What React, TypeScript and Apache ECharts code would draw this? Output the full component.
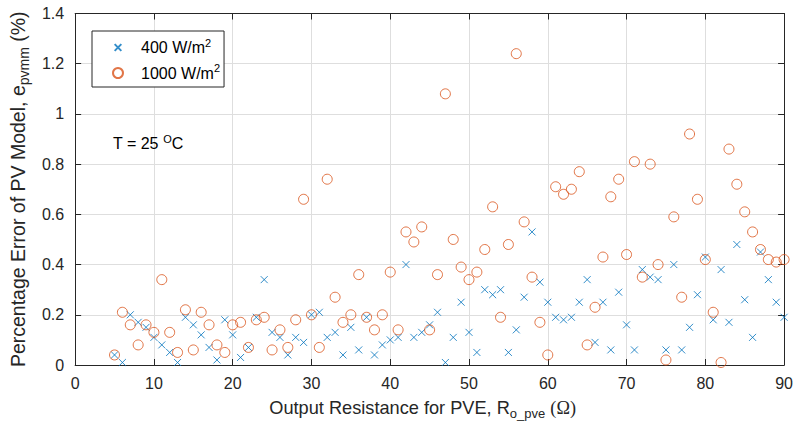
import React, { useEffect, useRef } from 'react';
import * as echarts from 'echarts';

// Output resistance for PVE (Ohm)
const resistance = [
  5, 6, 7, 8, 9, 10, 11, 12, 13, 14, 15, 16, 17, 18, 19, 20, 21, 22, 23, 24, 25, 26, 27, 28, 29,
  30, 31, 32, 33, 34, 35, 36, 37, 38, 39, 40, 41, 42, 43, 44, 45, 46, 47, 48, 49, 50, 51, 52, 53, 54,
  55, 56, 57, 58, 59, 60, 61, 62, 63, 64, 65, 66, 67, 68, 69, 70, 71, 72, 73, 74, 75, 76, 77, 78, 79,
  80, 81, 82, 83, 84, 85, 86, 87, 88, 89, 90,
];

// Percentage error at 400 W/m2
const err400 = [
  0.04, 0.01, 0.2, 0.17, 0.15, 0.11, 0.08, 0.05, 0.01, 0.19, 0.16, 0.12, 0.07, 0.02, 0.18, 0.12, 0.03, 0.07, 0.19, 0.34, 0.13, 0.11, 0.04, 0.11, 0.09,
  0.2, 0.21, 0.11, 0.13, 0.04, 0.15, 0.06, 0.19, 0.04, 0.08, 0.1, 0.11, 0.4, 0.11, 0.13, 0.16, 0.21, 0.01, 0.11, 0.25, 0.13, 0.05, 0.3, 0.28, 0.3,
  0.05, 0.14, 0.27, 0.53, 0.33, 0.25, 0.19, 0.18, 0.19, 0.25, 0.34, 0.09, 0.25, 0.06, 0.29, 0.16, 0.06, 0.38, 0.35, 0.34, 0.06, 0.4, 0.06, 0.15, 0.28,
  0.43, 0.18, 0.38, 0.17, 0.48, 0.26, 0.11, 0.45, 0.34, 0.25, 0.19,
];

// Percentage error at 1000 W/m2
const err1000 = [
  0.04, 0.21, 0.16, 0.08, 0.16, 0.13, 0.34, 0.13, 0.05, 0.22, 0.06, 0.21, 0.16, 0.08, 0.05, 0.16, 0.17, 0.07, 0.18, 0.19, 0.06, 0.14, 0.07, 0.18, 0.66,
  0.2, 0.07, 0.74, 0.27, 0.17, 0.2, 0.36, 0.19, 0.14, 0.2, 0.37, 0.14, 0.53, 0.49, 0.55, 0.14, 0.36, 1.08, 0.5, 0.39, 0.34, 0.37, 0.46, 0.63, 0.19,
  0.48, 1.24, 0.57, 0.35, 0.17, 0.04, 0.71, 0.68, 0.7, 0.77, 0.08, 0.23, 0.43, 0.67, 0.74, 0.44, 0.81, 0.35, 0.8, 0.4, 0.02, 0.59, 0.27, 0.92, 0.66,
  0.42, 0.21, 0.01, 0.86, 0.72, 0.61, 0.53, 0.46, 0.42, 0.41, 0.42,
];

const seriesNames = ['400 W/m2', '1000 W/m2'];

export default function App() {
  const ref = useRef<HTMLDivElement>(null);

  useEffect(() => {
    if (!ref.current) return;
    const chart = echarts.init(ref.current, null, { renderer: 'svg' });
    const font = '"Liberation Sans", Arial, Helvetica, sans-serif';
    const serif = '"Liberation Serif", "Times New Roman", serif';
    const axisColor = '#262626';
    const gridColor = '#dedede';
    const blue = '#0072BD';
    const orange = '#D95319';
    const crossPath = 'path://M-2.5,-2.5M12.5,12.5M0,0L10,10M10,0L0,10';

    const baseX = {
      type: 'value' as const,
      min: 0,
      max: 90,
      interval: 10,
      axisLine: { show: true, onZero: false, lineStyle: { color: axisColor, width: 1 } },
      axisTick: { show: true, inside: true, length: 6, lineStyle: { color: axisColor, width: 1 } },
    };
    const baseY = {
      type: 'value' as const,
      min: 0,
      max: 1.4,
      interval: 0.2,
      axisLine: { show: true, onZero: false, lineStyle: { color: axisColor, width: 1 } },
      axisTick: { show: true, inside: true, length: 6, lineStyle: { color: axisColor, width: 1 } },
    };

    const option = {
      animation: false,
      backgroundColor: '#ffffff',
      grid: { left: 74.6, right: 10.5, top: 13.5, bottom: 63, containLabel: false },
      xAxis: [
        {
          ...baseX,
          position: 'bottom',
          name: 'Output Resistance for PVE, R{sub|o_pve} {om|(Ω)}',
          nameLocation: 'middle',
          nameGap: 30,
          nameTextStyle: {
            fontSize: 18.2,
            fontFamily: font,
            color: axisColor,
            padding: [0, 14, 0, 0],
            rich: {
              sub: { fontSize: 13, fontFamily: font, color: axisColor, padding: [12, 0, 0, 0] },
              om: { fontSize: 18.2, fontFamily: serif, color: axisColor },
            },
          },
          axisLabel: { show: true, fontSize: 16, fontFamily: font, color: axisColor, margin: 10 },
          splitLine: { show: true, lineStyle: { color: gridColor, width: 1 } },
        },
        {
          ...baseX,
          position: 'top',
          axisLabel: { show: false },
          splitLine: { show: false },
        },
      ],
      yAxis: [
        {
          ...baseY,
          position: 'left',
          name: 'Percentage Error of PV Model, e{sub|pvmm} (%)',
          nameLocation: 'middle',
          nameGap: 42,
          nameTextStyle: {
            fontSize: 19.5,
            fontFamily: font,
            color: axisColor,
            rich: {
              sub: { fontSize: 14, fontFamily: font, color: axisColor, padding: [12, 0, 0, 0] },
            },
          },
          axisLabel: { show: true, fontSize: 16, fontFamily: font, color: axisColor, margin: 11 },
          splitLine: { show: true, lineStyle: { color: gridColor, width: 1 } },
        },
        {
          ...baseY,
          position: 'right',
          axisLabel: { show: false },
          splitLine: { show: false },
        },
      ],
      legend: {
        orient: 'vertical',
        left: 92,
        top: 31,
        itemWidth: 10,
        itemHeight: 10,
        itemGap: 7,
        padding: [6, 4, 6, 20],
        borderColor: axisColor,
        borderWidth: 1,
        backgroundColor: '#ffffff',
        selectedMode: false,
        symbolKeepAspect: true,
        textStyle: {
          fontSize: 16,
          fontFamily: font,
          color: '#000000',
          rich: {
            gap: { width: 13, fontSize: 16, fontFamily: font },
            sup: { fontSize: 11, fontFamily: font, color: '#000000', padding: [0, 0, 10, 0] },
          },
        },
        formatter: (n: string) => '{gap|}' + n.replace(/m2$/, 'm{sup|2}'),
        data: [{ name: seriesNames[0], icon: crossPath }, { name: seriesNames[1] }],
      },
      graphic: [
        {
          type: 'text',
          left: 113,
          top: 133,
          z: 10,
          style: {
            text: 'T = 25 {sup|O}C',
            fontSize: 16,
            fontFamily: font,
            fill: '#000000',
            rich: {
              sup: { fontSize: 11, fontFamily: font, fill: '#000000', padding: [0, 0, 10, 0] },
            },
          },
        },
      ],
      series: [
        {
          type: 'scatter',
          name: seriesNames[0],
          xAxisIndex: 0,
          yAxisIndex: 0,
          data: resistance.map((r, i) => [r, err400[i]]),
          symbol: crossPath,
          symbolSize: 10.5,
          itemStyle: { color: blue, borderColor: blue, borderWidth: 1 },
          emphasis: { disabled: true },
        },
        {
          type: 'scatter',
          name: seriesNames[1],
          xAxisIndex: 0,
          yAxisIndex: 0,
          data: resistance.map((r, i) => [r, err1000[i]]),
          symbol: 'circle',
          symbolSize: 10,
          itemStyle: { color: 'rgba(255,255,255,0)', borderColor: orange, borderWidth: 1 },
          emphasis: { disabled: true },
        },
      ],
    };

    chart.setOption(option as any);
    return () => chart.dispose();
  }, []);

  return <div ref={ref} style={{ position: 'fixed', left: 0, top: 0, width: 796, height: 428 }} />;
}
